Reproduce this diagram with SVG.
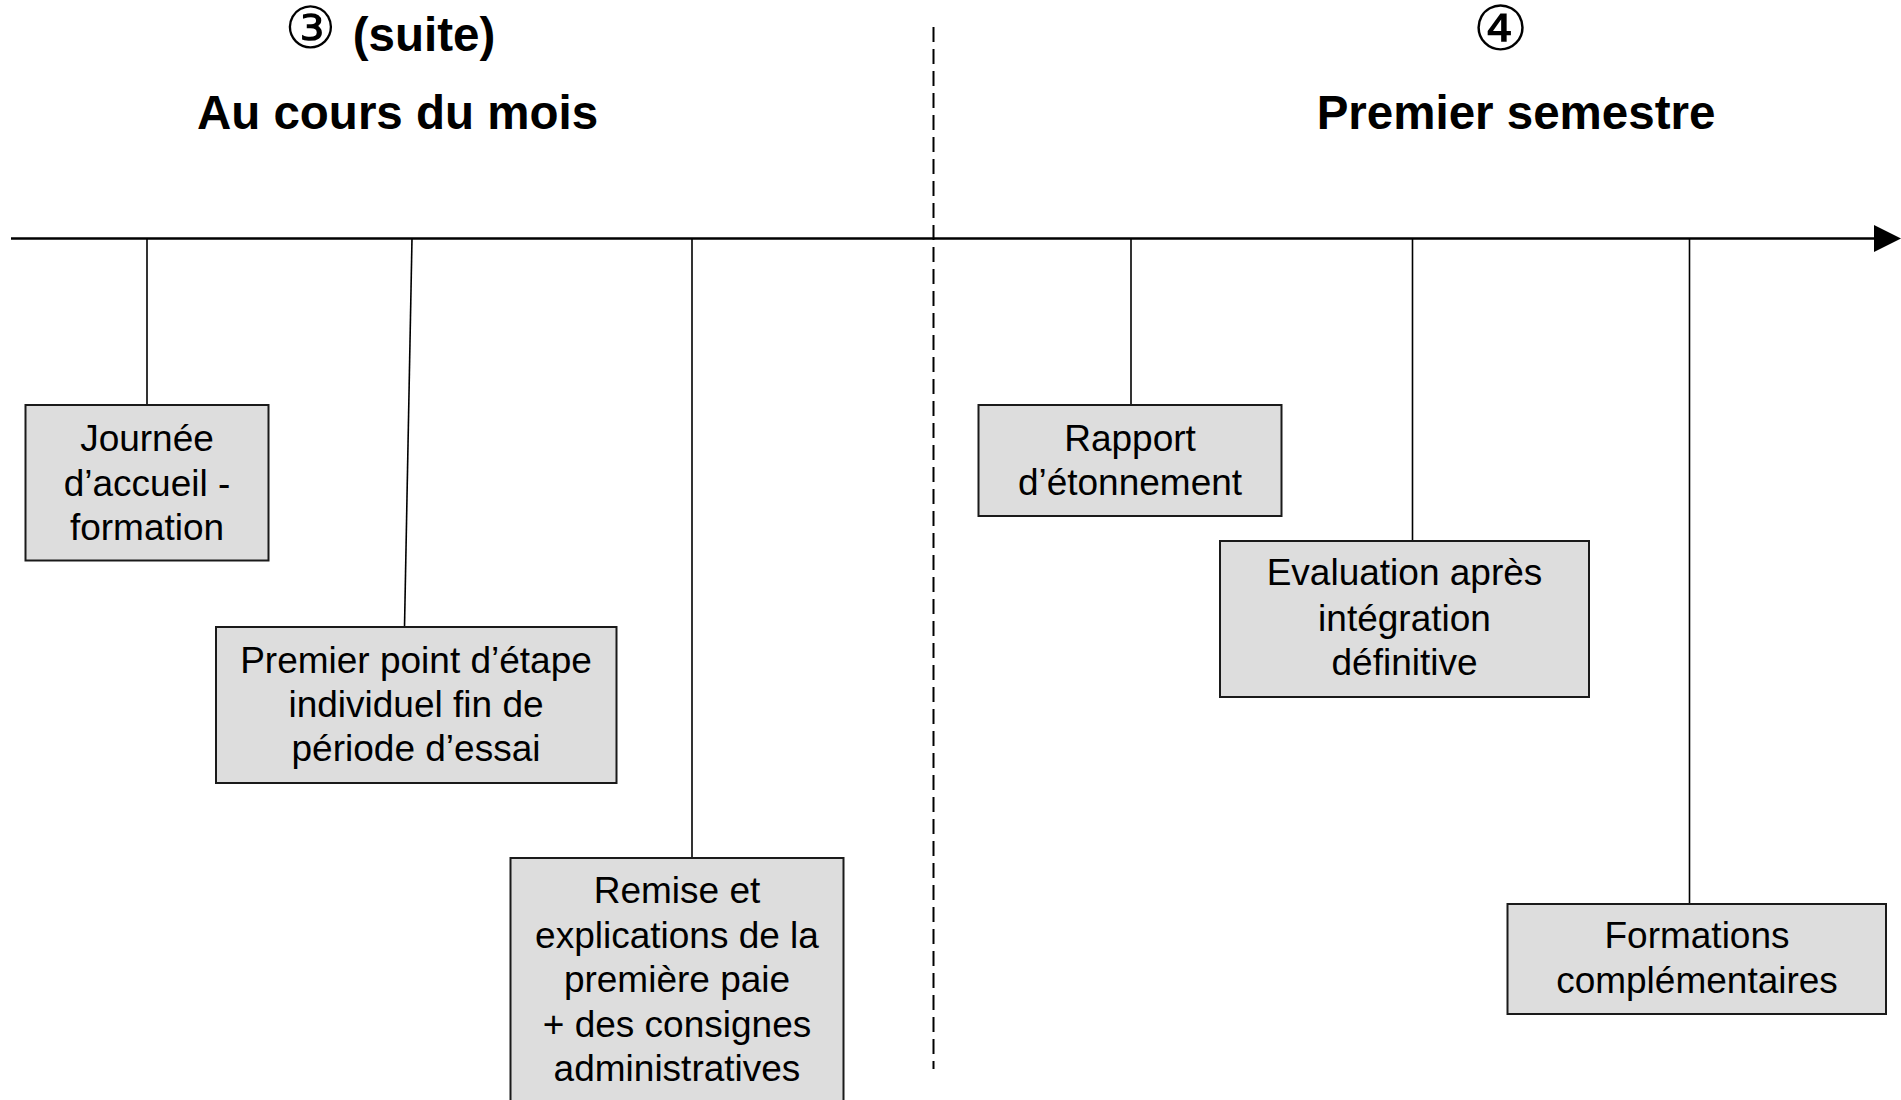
<svg xmlns="http://www.w3.org/2000/svg" width="1901" height="1100" viewBox="0 0 1901 1100">
<style>
.title{font-family:"Liberation Sans",Arial,sans-serif;font-weight:bold;font-size:47.5px;fill:#000;text-anchor:middle}
.circ{font-family:"DejaVu Sans",sans-serif;fill:#000;text-anchor:middle}
.box{fill:#dddddd;stroke:#1a1a1a;stroke-width:2}
.lbl{font-family:"Liberation Sans",Arial,sans-serif;font-size:37px;fill:#000;text-anchor:middle}
.tick{stroke:#000;stroke-width:1.6;fill:none}
</style>
<defs>
<marker id="arr" markerUnits="userSpaceOnUse" markerWidth="28" markerHeight="28" refX="1" refY="13.5" orient="auto" viewBox="0 0 28 28">
<path d="M0,0 L27,13.5 L0,27 Z" fill="#000"/>
</marker>
</defs>
<rect width="1901" height="1100" fill="#fff"/>
<g id="headers">
<text class="circ" x="310.5" y="47.5" font-size="58">③</text>
<text class="title" x="424" y="51">(suite)</text>
<text class="title" x="397.5" y="128.5">Au cours du mois</text>
<text class="circ" x="1500.5" y="50" font-size="62">④</text>
<text class="title" x="1516" y="128.5">Premier semestre</text>
</g>
<g id="connectors">
<line x1="11" y1="238.5" x2="1875" y2="238.5" stroke="#000" stroke-width="2.4" marker-end="url(#arr)"/>
<line x1="933.5" y1="27" x2="933.5" y2="1069" stroke="#000" stroke-width="2" stroke-dasharray="15,7"/>
<line class="tick" x1="147" y1="238.5" x2="147" y2="405"/>
<line class="tick" x1="412" y1="238.5" x2="404.5" y2="627"/>
<line class="tick" x1="692" y1="238.5" x2="692" y2="858"/>
<line class="tick" x1="1131" y1="238.5" x2="1131" y2="405"/>
<line class="tick" x1="1412.5" y1="238.5" x2="1412.5" y2="541"/>
<line class="tick" x1="1689.5" y1="238.5" x2="1689.5" y2="904"/>
</g>
<g id="journee">
<rect class="box" x="25.5" y="405" width="243" height="155.5"/>
<text class="lbl" x="147" y="450.7">Journée</text>
<text class="lbl" x="147" y="495.5">d’accueil -</text>
<text class="lbl" x="147" y="539.5">formation</text>
</g>
<g id="premier-point">
<rect class="box" x="216" y="627" width="400.5" height="156"/>
<text class="lbl" x="416" y="672.8">Premier point d’étape</text>
<text class="lbl" x="416" y="716.7">individuel fin de</text>
<text class="lbl" x="416" y="760.5">période d’essai</text>
</g>
<g id="remise">
<rect class="box" x="510.5" y="858" width="333" height="260"/>
<text class="lbl" x="677" y="902.6">Remise et</text>
<text class="lbl" x="677" y="947.5">explications de la</text>
<text class="lbl" x="677" y="992">première paie</text>
<text class="lbl" x="677" y="1037">+ des consignes</text>
<text class="lbl" x="677" y="1080.5">administratives</text>
</g>
<g id="rapport">
<rect class="box" x="978.5" y="405" width="303" height="111"/>
<text class="lbl" x="1130" y="450.7">Rapport</text>
<text class="lbl" x="1130" y="494.6">d’étonnement</text>
</g>
<g id="evaluation">
<rect class="box" x="1220" y="541" width="369" height="156"/>
<text class="lbl" x="1404.5" y="585">Evaluation après</text>
<text class="lbl" x="1404.5" y="630.5">intégration</text>
<text class="lbl" x="1404.5" y="674.6">définitive</text>
</g>
<g id="formations">
<rect class="box" x="1507.5" y="904" width="378.5" height="110"/>
<text class="lbl" x="1697" y="948">Formations</text>
<text class="lbl" x="1697" y="992.8">complémentaires</text>
</g>
</svg>
